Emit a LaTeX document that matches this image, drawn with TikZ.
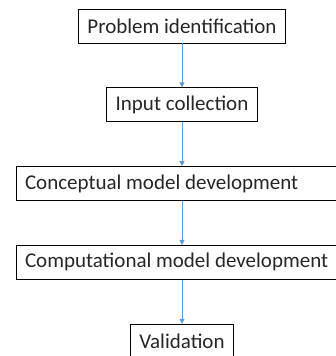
\documentclass[tikz,border=0pt]{standalone}
\usepackage{fontspec}
\setmainfont{Carlito}
\usetikzlibrary{positioning,arrows.meta}
\definecolor{flowblue}{HTML}{5B9BD5}
\tikzset{x=1pt,y=1pt,
    node distance=44pt,
    stage/.style={draw,line width=0.8pt,minimum height=34pt,inner xsep=9pt,
        font=\fontsize{21}{24}\selectfont,text=black!85},
    widestage/.style={stage,text width=314pt,align=flush left},
    flow/.style={draw=flowblue,line width=0.9pt,-{Triangle[width=5pt,length=5pt]}},
    }

\begin{document}
\begin{tikzpicture}
\useasboundingbox (0,0) rectangle (336,356);
\clip (0,0) rectangle (336,356);
\node[stage] (problem) at (182,330) {Problem identification};
\node[stage,below=of problem] (input) {Input collection};
\node[widestage,below=of input] (concept) {Conceptual model development};
\node[widestage,below=of concept] (compute) {Computational model development};
\node[stage,below=of compute] (valid) {Validation};
% arrows
\draw[flow] (problem) -- (input);
\draw[flow] (input) -- (concept);
\draw[flow] (concept) -- (compute);
\draw[flow] (compute) -- (valid);
\end{tikzpicture}
\end{document}
